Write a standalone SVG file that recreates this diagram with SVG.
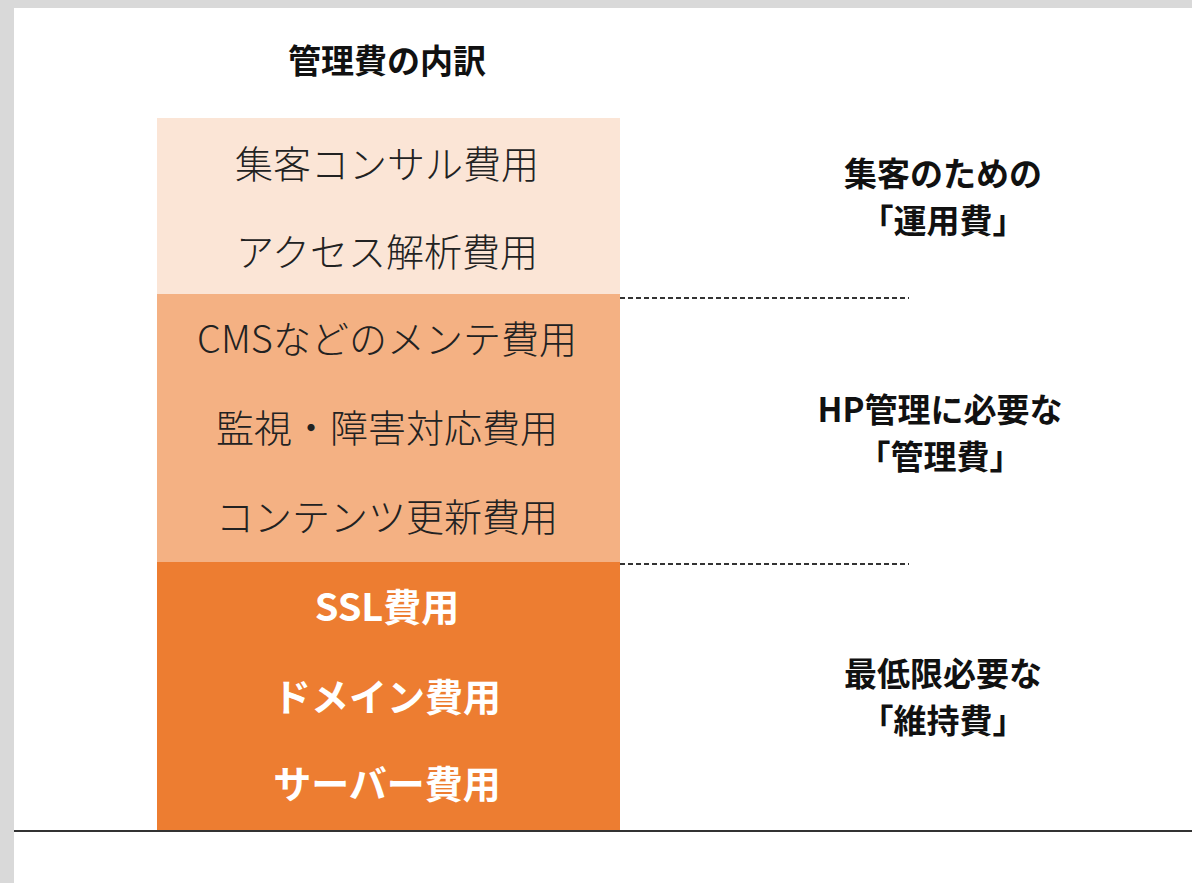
<svg xmlns="http://www.w3.org/2000/svg" width="1192" height="883" viewBox="0 0 1192 883">
<style>
text{font-family:"Noto Sans CJK JP","Noto Sans",sans-serif;text-anchor:middle}
.item{font-size:38px;font-weight:300;fill:#222}
.itemw{font-size:38px;font-weight:700;fill:#fff}
.lab{font-size:33px;font-weight:700;fill:#111}
.dash{stroke:#333;stroke-width:2;stroke-dasharray:5 3;fill:none}
</style>
<rect x="0" y="0" width="1192" height="883" fill="#d9d9d9"/>
<rect x="14" y="8" width="1178" height="875" fill="#fff"/>
<text id="title" x="387" y="73" style="font-size:33px;font-weight:700;fill:#111">管理費の内訳</text>
<g id="box-unyou">
<rect x="157" y="118" width="463" height="176" fill="#fbe5d6"/>
<text class="item" x="387" y="178">集客コンサル費用</text>
<text class="item" x="387" y="266">アクセス解析費用</text>
</g>
<g id="box-kanri">
<rect x="157" y="294" width="463" height="268" fill="#f4b183"/>
<text class="item" x="387" y="353">CMSなどのメンテ費用</text>
<text class="item" x="387" y="442">監視・障害対応費用</text>
<text class="item" x="387" y="531">コンテンツ更新費用</text>
</g>
<g id="box-iji">
<rect x="157" y="562" width="463" height="268" fill="#ed7d31"/>
<text class="itemw" x="387" y="621">SSL費用</text>
<text class="itemw" x="387" y="711">ドメイン費用</text>
<text class="itemw" x="387" y="798">サーバー費用</text>
</g>
<g id="connectors">
<line class="dash" x1="620" y1="298" x2="909" y2="298"/>
<line class="dash" x1="620" y1="564" x2="909" y2="564"/>
<line x1="14" y1="831" x2="1192" y2="831" stroke="#333" stroke-width="2"/>
</g>
<g id="label-unyou">
<text class="lab" x="943" y="186">集客のための</text>
<text class="lab" x="943" y="233">「運用費」</text>
</g>
<g id="label-kanri">
<text class="lab" x="940" y="422">HP管理に必要な</text>
<text class="lab" x="940" y="469">「管理費」</text>
</g>
<g id="label-iji">
<text class="lab" x="943" y="686">最低限必要な</text>
<text class="lab" x="943" y="733">「維持費」</text>
</g>
</svg>
